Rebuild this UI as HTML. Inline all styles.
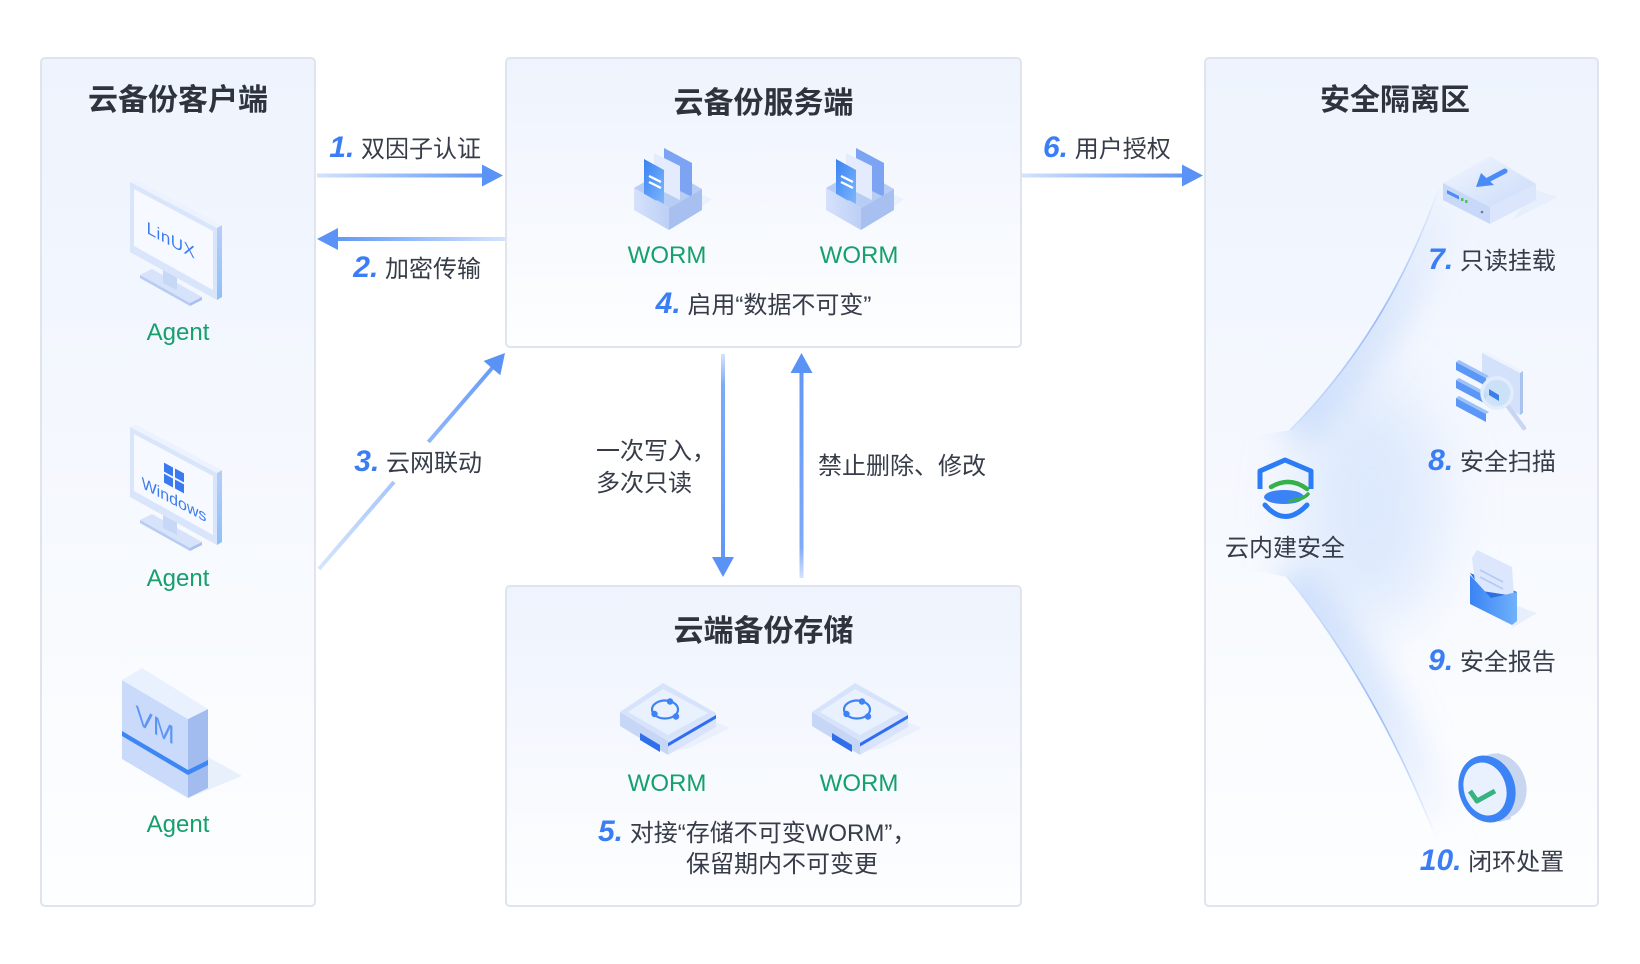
<!DOCTYPE html>
<html><head><meta charset="utf-8">
<style>
html,body{margin:0;padding:0;background:#fff}
body{width:1640px;height:964px;position:relative;overflow:hidden;font-family:"Liberation Sans","Noto Sans CJK SC",sans-serif}
svg{position:absolute;left:0;top:0}
.t{position:absolute;white-space:nowrap;font-size:24px;line-height:32px;color:#363c48}
.h{position:absolute;white-space:nowrap;font-size:30px;line-height:40px;font-weight:bold;color:#2e333d;text-align:center}
.g{position:absolute;white-space:nowrap;font-size:24px;line-height:32px;color:#16a06b;text-align:center}
.n{font-family:"Liberation Sans",sans-serif;font-weight:bold;font-style:italic;font-size:30px;color:#3b7df5}
.c{text-align:center}
.r{text-align:right}
</style></head><body>
<svg width="1640" height="964" viewBox="0 0 1640 964" xmlns="http://www.w3.org/2000/svg">
<defs>
<linearGradient id="boxg" x1="0" y1="0" x2="0" y2="1"><stop offset="0" stop-color="#eef3fd"/><stop offset="1" stop-color="#fdfeff"/></linearGradient>
<linearGradient id="a1" x1="317" y1="0" x2="485" y2="0" gradientUnits="userSpaceOnUse"><stop offset="0" stop-color="#d3e3fd"/><stop offset="1" stop-color="#6197f7"/></linearGradient>
<linearGradient id="a2" x1="335" y1="0" x2="505" y2="0" gradientUnits="userSpaceOnUse"><stop offset="0" stop-color="#6197f7"/><stop offset="1" stop-color="#d3e3fd"/></linearGradient>
<linearGradient id="a6" x1="1022" y1="0" x2="1185" y2="0" gradientUnits="userSpaceOnUse"><stop offset="0" stop-color="#d3e3fd"/><stop offset="1" stop-color="#6197f7"/></linearGradient>
<linearGradient id="a3" x1="319" y1="569" x2="505" y2="353" gradientUnits="userSpaceOnUse"><stop offset="0" stop-color="#d6e5fd"/><stop offset="1" stop-color="#6197f7"/></linearGradient>
<linearGradient id="ad" x1="0" y1="354" x2="0" y2="560" gradientUnits="userSpaceOnUse"><stop offset="0" stop-color="#d3e3fd"/><stop offset="0.15" stop-color="#7eaaf8"/><stop offset="1" stop-color="#6197f7"/></linearGradient>
<linearGradient id="au" x1="0" y1="371" x2="0" y2="578" gradientUnits="userSpaceOnUse"><stop offset="0" stop-color="#6197f7"/><stop offset="0.85" stop-color="#7eaaf8"/><stop offset="1" stop-color="#d3e3fd"/></linearGradient>
<linearGradient id="monSide" x1="0" y1="0" x2="0" y2="1"><stop offset="0" stop-color="#b9cdf5"/><stop offset="1" stop-color="#8fc0f8"/></linearGradient>
<linearGradient id="docg" x1="0" y1="0" x2="1" y2="1"><stop offset="0" stop-color="#3a83f4"/><stop offset="1" stop-color="#7db6fb"/></linearGradient>
<linearGradient id="trayL" x1="0" y1="0" x2="1" y2="0"><stop offset="0" stop-color="#d6e2fb"/><stop offset="1" stop-color="#bccff6"/></linearGradient>
<linearGradient id="envg" x1="0" y1="0" x2="1" y2="0"><stop offset="0" stop-color="#3a84f5"/><stop offset="1" stop-color="#70b1fb"/></linearGradient>
<linearGradient id="topg" x1="0" y1="0" x2="1" y2="1"><stop offset="0" stop-color="#f3f7ff"/><stop offset="1" stop-color="#c9daf9"/></linearGradient>
<linearGradient id="beamV" x1="0" y1="185" x2="0" y2="840" gradientUnits="userSpaceOnUse">
<stop offset="0" stop-color="#c3d8fb" stop-opacity="0"/><stop offset="0.2" stop-color="#c3d8fb" stop-opacity="0.55"/><stop offset="0.5" stop-color="#c3d8fb" stop-opacity="0.9"/><stop offset="0.8" stop-color="#c3d8fb" stop-opacity="0.55"/><stop offset="1" stop-color="#c3d8fb" stop-opacity="0"/></linearGradient>
<linearGradient id="lineV" x1="0" y1="185" x2="0" y2="840" gradientUnits="userSpaceOnUse">
<stop offset="0" stop-color="#8fb4f6" stop-opacity="0"/><stop offset="0.2" stop-color="#8fb4f6" stop-opacity="0.9"/><stop offset="0.38" stop-color="#8fb4f6" stop-opacity="0.2"/><stop offset="0.62" stop-color="#8fb4f6" stop-opacity="0.2"/><stop offset="0.8" stop-color="#8fb4f6" stop-opacity="0.9"/><stop offset="1" stop-color="#8fb4f6" stop-opacity="0"/></linearGradient>
<clipPath id="beamClip"><path d="M1230,440 L1290,430 Q1389,331 1440,185 L1598,185 L1598,840 L1437,840 Q1375,684 1287,577 L1230,565 Z"/></clipPath>
<filter id="bl" x="-60%" y="-60%" width="220%" height="220%"><feGaussianBlur stdDeviation="16"/></filter>
<filter id="bl2" x="-60%" y="-60%" width="220%" height="220%"><feGaussianBlur stdDeviation="30"/></filter>
</defs>

<!-- boxes -->
<rect x="41" y="58" width="274" height="848" rx="4" fill="url(#boxg)" stroke="#dfe4ee" stroke-width="2"/>
<rect x="506" y="58" width="515" height="289" rx="4" fill="url(#boxg)" stroke="#dfe4ee" stroke-width="2"/>
<rect x="506" y="586" width="515" height="320" rx="4" fill="url(#boxg)" stroke="#dfe4ee" stroke-width="2"/>
<rect x="1205" y="58" width="393" height="848" rx="4" fill="url(#boxg)" stroke="#dfe4ee" stroke-width="2"/>

<!-- beam -->
<g clip-path="url(#beamClip)">
<ellipse cx="1370" cy="505" rx="70" ry="120" fill="#d3e3fc" opacity="0.7" filter="url(#bl2)"/>
<path d="M1290,430 Q1389,331 1440,185" stroke="url(#beamV)" stroke-width="50" fill="none" filter="url(#bl)"/>
<path d="M1287,577 Q1375,684 1437,840" stroke="url(#beamV)" stroke-width="50" fill="none" filter="url(#bl)"/>
</g>
<path d="M1290,430 Q1389,331 1440,185" stroke="url(#lineV)" stroke-width="1.6" fill="none"/>
<path d="M1287,577 Q1375,684 1437,840" stroke="url(#lineV)" stroke-width="1.6" fill="none"/>

<!-- arrows -->
<line x1="317" y1="175.5" x2="485" y2="175.5" stroke="url(#a1)" stroke-width="4"/>
<polygon points="503,175.5 482,164.5 482,186.5" fill="#5b92f6"/>
<line x1="335" y1="239" x2="505" y2="239" stroke="url(#a2)" stroke-width="4"/>
<polygon points="317,239 338,228 338,250" fill="#5b92f6"/>
<line x1="1022" y1="175.5" x2="1185" y2="175.5" stroke="url(#a6)" stroke-width="4"/>
<polygon points="1203,175.5 1182,164.5 1182,186.5" fill="#5b92f6"/>
<line x1="319" y1="569" x2="394" y2="482" stroke="url(#a3)" stroke-width="4"/>
<line x1="428.4" y1="442" x2="493" y2="367" stroke="url(#a3)" stroke-width="4"/>
<polygon points="505,353 500.3,375.3 483.6,361" fill="#5b92f6"/>
<line x1="723" y1="354" x2="723" y2="560" stroke="url(#ad)" stroke-width="4"/>
<polygon points="723,577 712,557 734,557" fill="#5b92f6"/>
<line x1="801.5" y1="371" x2="801.5" y2="578" stroke="url(#au)" stroke-width="4"/>
<polygon points="801.5,353 790.5,373 812.5,373" fill="#5b92f6"/>

<!-- Linux monitor -->
<g>
<polygon points="140,275 190,303 202,297 152,269" fill="#d7e3fb"/>
<polygon points="140,275 190,303 190,306 140,278" fill="#b8cbf2"/>
<polygon points="190,303 202,297 202,300 190,306" fill="#a9c0ee"/>
<polygon points="163,268 177,275 177,290 163,283" fill="#c7d7f6"/>
<polygon points="217,228 222,225 222,297 217,300" fill="url(#monSide)"/>
<polygon points="130,182 135,179 222,225 217,228" fill="#edf3fe"/>
<polygon points="130,182 217,228 217,300 130,252" fill="#d9e5fb"/>
<polygon points="134,189 213,231 213,290 134,246" fill="#f6f9ff"/>
</g>
<text transform="translate(171,240) skewY(28)" x="0" y="6" text-anchor="middle" font-family="Liberation Sans" font-size="17" fill="#3d7cf0" letter-spacing="0.5">LinUX</text>

<!-- Windows monitor -->
<g transform="translate(0,245)">
<polygon points="140,275 190,303 202,297 152,269" fill="#d7e3fb"/>
<polygon points="140,275 190,303 190,306 140,278" fill="#b8cbf2"/>
<polygon points="190,303 202,297 202,300 190,306" fill="#a9c0ee"/>
<polygon points="163,268 177,275 177,290 163,283" fill="#c7d7f6"/>
<polygon points="217,228 222,225 222,297 217,300" fill="url(#monSide)"/>
<polygon points="130,182 135,179 222,225 217,228" fill="#edf3fe"/>
<polygon points="130,182 217,228 217,300 130,252" fill="#d9e5fb"/>
<polygon points="134,189 213,231 213,290 134,246" fill="#f6f9ff"/>
</g>
<g transform="translate(174,499) skewY(28)">
<rect x="-10" y="-31" width="9" height="9" fill="#3a7af0"/>
<rect x="1" y="-31" width="9" height="9" fill="#3a7af0"/>
<rect x="-10" y="-20" width="9" height="9" fill="#3a7af0"/>
<rect x="1" y="-20" width="9" height="9" fill="#3a7af0"/>
<text x="0" y="6" text-anchor="middle" font-family="Liberation Sans" font-size="16" fill="#3d7cf0">Windows</text>
</g>

<!-- VM cube -->
<polygon points="208,757 242,776 188,798" fill="#e4ecfb" opacity="0.8"/>
<polygon points="122,680 188,719 188,798 122,759" fill="#c9dafb"/>
<polygon points="188,719 208,709 208,788 188,798" fill="#a3bcef"/>
<polygon points="122,680 142,668 208,709 188,719" fill="#eaf1fe"/>
<polygon points="122,731 188,770 188,775 122,736" fill="#3d87f5"/>
<polygon points="188,770 208,760 208,765 188,775" fill="#3d87f5"/>
<text transform="translate(155,725) skewY(30)" x="0" y="9" text-anchor="middle" font-family="Liberation Sans" font-size="26" fill="#5c95f5">VM</text>

<!-- WORM doc icons -->
<g>
<polygon points="634,188 667,169 702,189 669,208" fill="#b8cdf5"/>
<polygon points="664,148 692,163 692,197 664,183" fill="#7ca4f3"/>
<polygon points="654,153 680,166 680,200 654,187" fill="#e3ebfc"/>
<path d="M644,159 L664,170 L664,204 L657,200 Q652,207 648,198 L644,196 Z" fill="url(#docg)"/>
<line x1="649" y1="176" x2="661" y2="182" stroke="#fff" stroke-width="2.2"/>
<line x1="649" y1="182" x2="661" y2="188" stroke="#fff" stroke-width="2.2"/>
<polygon points="702,195 712,199 690,216" fill="#e6edfb" opacity="0.7"/>
<polygon points="634,188 669,208 669,230 634,210" fill="url(#trayL)"/>
<polygon points="669,208 702,189 702,210 669,230" fill="#a7c0f0"/>
</g>
<g transform="translate(192,0)">
<polygon points="634,188 667,169 702,189 669,208" fill="#b8cdf5"/>
<polygon points="664,148 692,163 692,197 664,183" fill="#7ca4f3"/>
<polygon points="654,153 680,166 680,200 654,187" fill="#e3ebfc"/>
<path d="M644,159 L664,170 L664,204 L657,200 Q652,207 648,198 L644,196 Z" fill="url(#docg)"/>
<line x1="649" y1="176" x2="661" y2="182" stroke="#fff" stroke-width="2.2"/>
<line x1="649" y1="182" x2="661" y2="188" stroke="#fff" stroke-width="2.2"/>
<polygon points="702,195 712,199 690,216" fill="#e6edfb" opacity="0.7"/>
<polygon points="634,188 669,208 669,230 634,210" fill="url(#trayL)"/>
<polygon points="669,208 702,189 702,210 669,230" fill="#a7c0f0"/>
</g>

<!-- storage icons -->
<g>
<polygon points="690,748 730,728 716,722 668,752" fill="#e6edfb" opacity="0.7"/>
<polygon points="620,712 668,741 668,755 620,726" fill="#c5d6f7"/>
<polygon points="668,741 716,713 716,727 668,755" fill="#d9e4fb"/>
<polygon points="668,743 716,715 716,718.5 668,746.5" fill="#2f6ef2"/>
<polygon points="640,733 660,745 660,752 640,740" fill="#2f70ea"/>
<polygon points="620,712 663,683 716,713 668,741" fill="#d6e3fb"/>
<polygon points="628,712 663,689 708,713 668,735" fill="#eaf1fe"/>
<ellipse cx="665" cy="709.5" rx="13" ry="9" fill="none" stroke="#3f82f4" stroke-width="2.2"/>
<circle cx="670" cy="701.5" r="3.2" fill="#3f82f4"/>
<circle cx="654.5" cy="714" r="3.2" fill="#3f82f4"/>
<circle cx="676" cy="716.5" r="3.2" fill="#3f82f4"/>
</g>
<g transform="translate(192,0)">
<polygon points="690,748 730,728 716,722 668,752" fill="#e6edfb" opacity="0.7"/>
<polygon points="620,712 668,741 668,755 620,726" fill="#c5d6f7"/>
<polygon points="668,741 716,713 716,727 668,755" fill="#d9e4fb"/>
<polygon points="668,743 716,715 716,718.5 668,746.5" fill="#2f6ef2"/>
<polygon points="640,733 660,745 660,752 640,740" fill="#2f70ea"/>
<polygon points="620,712 663,683 716,713 668,741" fill="#d6e3fb"/>
<polygon points="628,712 663,689 708,713 668,735" fill="#eaf1fe"/>
<ellipse cx="665" cy="709.5" rx="13" ry="9" fill="none" stroke="#3f82f4" stroke-width="2.2"/>
<circle cx="670" cy="701.5" r="3.2" fill="#3f82f4"/>
<circle cx="654.5" cy="714" r="3.2" fill="#3f82f4"/>
<circle cx="676" cy="716.5" r="3.2" fill="#3f82f4"/>
</g>

<!-- item 7: read-only mount -->
<polygon points="1536,190 1558,197 1512,220" fill="#e3ebfb" opacity="0.7"/>
<polygon points="1443,183 1490,207 1490,224 1443,200" fill="#c8d8f8"/>
<polygon points="1490,207 1536,184 1536,200 1490,224" fill="#dbe5fb"/>
<polygon points="1443,183 1490,156 1536,184 1490,207" fill="url(#topg)"/>
<polygon points="1447,190 1459,196 1459,199.5 1447,193.5" fill="#4d8cf5"/>
<rect x="1461" y="198" width="2.5" height="3" fill="#4cc35d"/>
<rect x="1465" y="200" width="2.5" height="3" fill="#4cc35d"/>
<circle cx="1482" cy="212" r="1.3" fill="#6b7a99"/>
<line x1="1505" y1="171" x2="1486" y2="181" stroke="#4a8bf6" stroke-width="5" stroke-linecap="round"/>
<polygon points="1476,187 1481,173 1494,185" fill="#4a8bf6"/>

<!-- item 8: scan -->
<polygon points="1482,353 1485,351 1523,371 1520,373" fill="#eef3fe"/>
<polygon points="1520,373 1523,371 1523,413 1520,415" fill="#a9c2f0"/>
<polygon points="1482,353 1520,373 1520,415 1482,395" fill="#d4e1fb"/>
<polygon points="1456,362 1486,378 1486,386 1456,370" fill="#5b97f6"/>
<polygon points="1456,380 1486,396 1486,404 1456,388" fill="#5b97f6"/>
<polygon points="1456,398 1486,414 1486,422 1456,406" fill="#5b97f6"/>
<polygon points="1456,362 1459,360 1489,376 1486,378" fill="#9cc2fa"/>
<polygon points="1456,380 1459,378 1489,394 1486,396" fill="#9cc2fa"/>
<polygon points="1456,398 1459,396 1489,412 1486,414" fill="#9cc2fa"/>
<line x1="1507" y1="405" x2="1524" y2="428" stroke="#c8d6f3" stroke-width="4.5" stroke-linecap="round"/>
<circle cx="1497" cy="393" r="15" fill="#c9e0f7" fill-opacity="0.85" stroke="#e2ecfd" stroke-width="3.5"/>
<polygon points="1489,389 1499,395 1499,401 1489,395" fill="#3c7fe8"/>

<!-- item 9: report -->
<polygon points="1517,606 1537,613 1512,628" fill="#e4ecfb" opacity="0.8"/>
<polygon points="1470,573 1517,592 1517,602 1490,602" fill="#2f6fe0"/>
<polygon points="1472,558 1477,550 1512,567 1514,596 1476,590" fill="#dce7fd"/>
<line x1="1480" y1="570" x2="1503" y2="582" stroke="#b5cbf5" stroke-width="1.8"/>
<line x1="1480" y1="577" x2="1503" y2="589" stroke="#b5cbf5" stroke-width="1.8"/>
<polygon points="1470,575 1491,598 1517,592 1517,621 1512,625 1470,604" fill="url(#envg)"/>

<!-- item 10: check disc -->
<ellipse cx="1499" cy="786" rx="27" ry="33" transform="rotate(-18 1499 786)" fill="#c9d6ef"/>
<polygon points="1487,755 1499,753 1511,819 1499,822" fill="#c9d6ef"/>
<ellipse cx="1487" cy="789" rx="28" ry="34" transform="rotate(-18 1487 789)" fill="#3c84f6"/>
<ellipse cx="1485" cy="789" rx="21" ry="27" transform="rotate(-18 1485 789)" fill="#e9f1fe"/>
<polyline points="1470,791 1477,801 1495,791" fill="none" stroke="#36b37e" stroke-width="5" stroke-linejoin="round"/>

<!-- shield -->
<path d="M1260,489 V471 L1285,460 L1311,471 V489" fill="none" stroke="#2c7cf6" stroke-width="5" stroke-linejoin="round"/>
<path d="M1271,487 Q1290,476 1307,489" fill="none" stroke="#36b04a" stroke-width="4.5" stroke-linecap="round"/>
<ellipse cx="1284" cy="497" rx="20" ry="7" fill="#3b82f6"/>
<path d="M1290,501 Q1304,499 1308,494" fill="none" stroke="#36b04a" stroke-width="3.5" stroke-linecap="round"/>
<path d="M1265,505 Q1285,528 1307,505" fill="none" stroke="#2c7cf6" stroke-width="5" stroke-linecap="round"/>
</svg>

<!-- titles -->
<div class="h" style="left:40px;width:276px;top:81px">云备份客户端</div>
<div class="h" style="left:505px;width:517px;top:84px">云备份服务端</div>
<div class="h" style="left:505px;width:517px;top:612px">云端备份存储</div>
<div class="h" style="left:1295px;width:200px;top:81px">安全隔离区</div>

<!-- agents -->
<div class="g" style="left:98px;width:160px;top:317px">Agent</div>
<div class="g" style="left:98px;width:160px;top:563px">Agent</div>
<div class="g" style="left:98px;width:160px;top:809px">Agent</div>

<!-- WORM -->
<div class="g" style="left:607px;width:120px;top:240px">WORM</div>
<div class="g" style="left:799px;width:120px;top:240px">WORM</div>
<div class="g" style="left:607px;width:120px;top:768px">WORM</div>
<div class="g" style="left:799px;width:120px;top:768px">WORM</div>

<!-- arrow labels -->
<div class="t r" style="left:280px;width:201px;top:132px"><span class="n">1.</span> 双因子认证</div>
<div class="t r" style="left:280px;width:201px;top:252px"><span class="n">2.</span> 加密传输</div>
<div class="t r" style="left:280px;width:202px;top:446px"><span class="n">3.</span> 云网联动</div>
<div class="t" style="left:1043px;top:132px"><span class="n">6.</span> 用户授权</div>

<div class="t c" style="left:505px;width:517px;top:288px"><span class="n">4.</span> 启用“数据不可变”</div>

<div class="t" style="left:596px;top:436px">一次写入，<br>多次只读</div>
<div class="t" style="left:818px;top:451px">禁止删除、修改</div>

<div class="t" style="left:598px;top:816px"><span class="n">5.</span> 对接“存储不可变WORM”，</div>
<div class="t" style="left:686px;top:849px">保留期内不可变更</div>

<!-- right labels -->
<div class="t c" style="left:1392px;width:200px;top:244px"><span class="n">7.</span> 只读挂载</div>
<div class="t c" style="left:1392px;width:200px;top:445px"><span class="n">8.</span> 安全扫描</div>
<div class="t c" style="left:1392px;width:200px;top:645px"><span class="n">9.</span> 安全报告</div>
<div class="t c" style="left:1392px;width:200px;top:845px"><span class="n">10.</span> 闭环处置</div>
<div class="t c" style="left:1205px;width:160px;top:533px">云内建安全</div>
</body></html>
